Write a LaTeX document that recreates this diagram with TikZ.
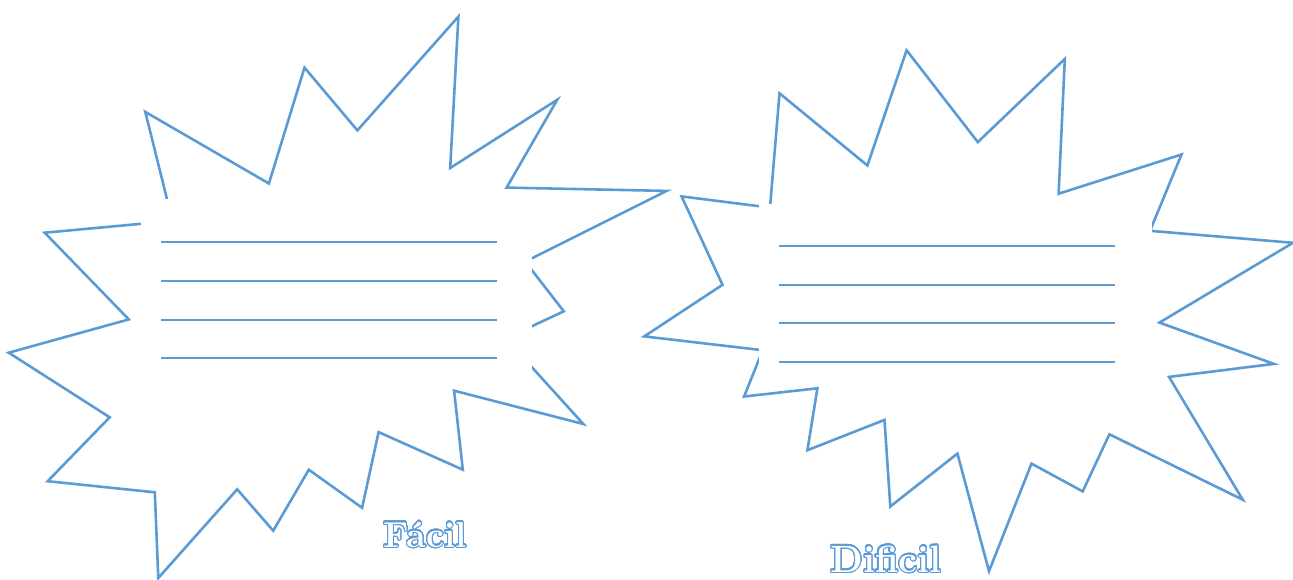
\documentclass[tikz,border=0pt]{standalone}
\usepackage{contour}
\contourlength{1.1pt}
\contournumber{32}
\definecolor{ofblue}{HTML}{5B9BD5}
\tikzset{
  starline/.style={draw=ofblue, line width=2.6pt, line join=miter, miter limit=20},
  mask/.style={fill=white, draw=none},
  writeline/.style={draw=ofblue, line width=1.9pt},
  labeltext/.style={anchor=base, inner sep=0pt, font=\bfseries\fontsize{36}{40}\selectfont}
}
\begin{document}
\begin{tikzpicture}[x=1pt, y=-1pt]
\useasboundingbox (0,0) rectangle (1293,579);
% left burst
\draw[starline] (145.3,111.9) -- (268.9,183.5) -- (304.5,67.6) -- (357.4,130.4) -- (458.4,16.6) -- (450.2,168) -- (557.3,99.7) -- (506.6,187.6) -- (666.6,190.9) -- (525.2,261.6) -- (563.8,311.3) -- (505.8,338.4) -- (583.3,424) -- (454.1,390.7) -- (462.8,469.7) -- (378.6,432.1) -- (362.1,507.8) -- (308.8,469.7) -- (273.2,530.7) -- (237.2,489.3) -- (158.3,578) -- (154.8,492.3) -- (47.7,481.2) -- (109.7,417.3) -- (8.7,352.7) -- (128.8,319.4) -- (44.7,232.7) -- (172.4,220.9) -- cycle;
\fill[mask] (141,199.4) rectangle (532.1,376);
\foreach \yy in {242,281,320,358}{
  \draw[writeline] (161,\yy) -- (497,\yy);
}
% right burst
\draw[starline] (779.5,93.3) -- (867.4,165.5) -- (906.6,50.3) -- (977.8,142.1) -- (1064.8,58.9) -- (1058.6,193.7) -- (1181.5,154.5) -- (1150,230.8) -- (1293,242.8) -- (1159.4,322.6) -- (1273.9,363.9) -- (1169,376.9) -- (1242.7,499.7) -- (1109.4,434.3) -- (1082.7,491.4) -- (1031.5,463.6) -- (989,571.2) -- (957.4,453.6) -- (890.3,506.5) -- (884.5,419.9) -- (807.4,450.2) -- (817.4,388.3) -- (744.1,396.5) -- (762.7,350.2) -- (644.2,336.4) -- (722.5,284.8) -- (681.6,196.4) -- (770,207.6) -- cycle;
\fill[mask] (758.7,204.3) rectangle (1151.5,376);
\foreach \yy in {246,285,323,362}{
  \draw[writeline] (779,\yy) -- (1115,\yy);
}
% labels
\node[labeltext] (facil) at (425,547) {\contour{ofblue}{\textcolor{white}{Fácil}}};
\node[labeltext, font=\bfseries\fontsize{38}{42}\selectfont] (dificil) at (886,572) {\contour{ofblue}{\textcolor{white}{Dificil}}};
\end{tikzpicture}
\end{document}
